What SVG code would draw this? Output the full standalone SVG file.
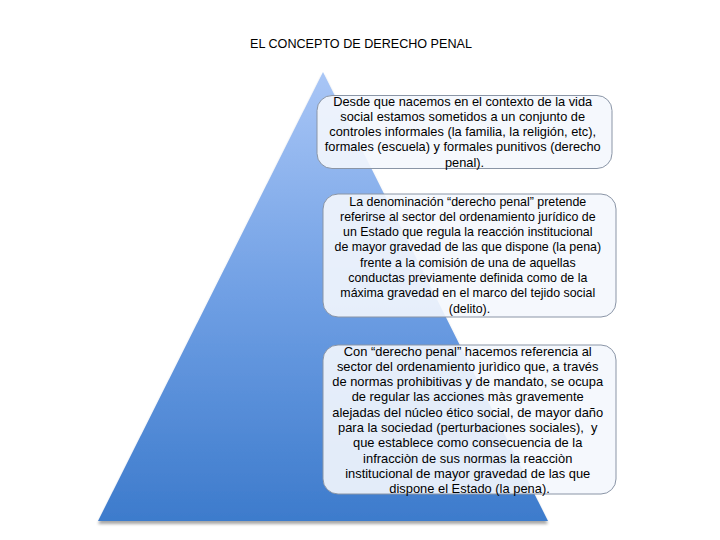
<svg xmlns="http://www.w3.org/2000/svg" width="720" height="540" viewBox="0 0 720 540">
<defs>
<linearGradient id="tri" x1="0" y1="0" x2="0" y2="1">
<stop offset="0" stop-color="#a9c6f6"/>
<stop offset="0.5" stop-color="#6f9fe4"/>
<stop offset="1" stop-color="#3d7bcc"/>
</linearGradient>
<filter id="sh" x="-10%" y="-10%" width="120%" height="120%">
<feGaussianBlur in="SourceAlpha" stdDeviation="1.5"/>
<feOffset dx="0" dy="3" result="b"/>
<feComponentTransfer><feFuncA type="linear" slope="0.35"/></feComponentTransfer>
<feMerge><feMergeNode/><feMergeNode in="SourceGraphic"/></feMerge>
</filter>
</defs>
<style>
.t{font-family:"Liberation Sans",Arial,sans-serif;fill:#000;text-anchor:middle}
.box{fill:#f4f7fd;fill-opacity:0.9;stroke:#8a95a6;stroke-width:1}
</style>
<rect width="720" height="540" fill="#fff"/>
<text class="t" x="361" y="48" font-size="12.6">EL CONCEPTO DE DERECHO PENAL</text>
<g id="pyramid">
<polygon points="323,72 548,521 98,521" fill="url(#tri)" filter="url(#sh)"/>
</g>
<g id="connectors"/>
<g id="box1">
<rect class="box" x="317" y="95.5" width="295" height="73" rx="15"/>
<text class="t" font-size="12.8">
<tspan x="464.5" y="105.5">Desde que nacemos en el contexto de la vida</tspan>
<tspan x="464.5" y="120.8">social estamos sometidos a un conjunto de</tspan>
<tspan x="464.5" y="136.1">controles informales (la familia, la religión, etc),</tspan>
<tspan x="464.5" y="151.4">formales (escuela) y formales punitivos (derecho</tspan>
<tspan x="464.5" y="166.7">penal).</tspan>
</text>
</g>
<g id="box2">
<rect class="box" x="323" y="194" width="293" height="123" rx="15"/>
<text class="t" font-size="12.4">
<tspan x="469.5" y="205.5">La denominación “derecho penal” pretende</tspan>
<tspan x="469.5" y="220.8">referirse al sector del ordenamiento jurídico de</tspan>
<tspan x="469.5" y="236.1">un Estado que regula la reacción institucional</tspan>
<tspan x="469.5" y="251.4">de mayor gravedad de las que dispone (la pena)</tspan>
<tspan x="469.5" y="266.7">frente a la comisión de una de aquellas</tspan>
<tspan x="469.5" y="282">conductas previamente definida como de la</tspan>
<tspan x="469.5" y="297.3">máxima gravedad en el marco del tejido social</tspan>
<tspan x="469.5" y="312.6">(delito).</tspan>
</text>
</g>
<g id="box3">
<rect class="box" x="323" y="345" width="293" height="149" rx="15"/>
<text class="t" font-size="12.9">
<tspan x="469.5" y="355.5">Con “derecho penal” hacemos referencia al</tspan>
<tspan x="469.5" y="370.8">sector del ordenamiento jurìdico que, a través</tspan>
<tspan x="469.5" y="386.1">de normas prohibitivas y de mandato, se ocupa</tspan>
<tspan x="469.5" y="401.4">de regular las acciones màs gravemente</tspan>
<tspan x="469.5" y="416.7">alejadas del núcleo ético social, de mayor daño</tspan>
<tspan x="469.5" y="432" xml:space="preserve">para la sociedad (perturbaciones sociales),  y</tspan>
<tspan x="469.5" y="447.3">que establece como consecuencia de la</tspan>
<tspan x="469.5" y="462.6">infracciòn de sus normas la reacciòn</tspan>
<tspan x="469.5" y="477.9">institucional de mayor gravedad de las que</tspan>
<tspan x="469.5" y="493.2">dispone el Estado (la pena).</tspan>
</text>
</g>
</svg>
